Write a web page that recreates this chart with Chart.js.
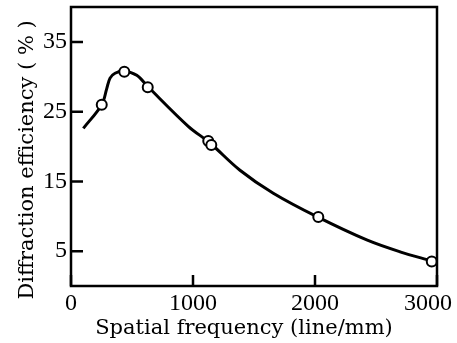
<!DOCTYPE html>
<html>
<head>
<meta charset="utf-8">
<script src="https://cdn.jsdelivr.net/npm/chart.js@4.4.0/dist/chart.umd.min.js"></script>
<style>
  html, body { margin: 0; padding: 0; background: #fff; }
  #wrap { width: 457px; height: 343px; }
</style>
</head>
<body>
<div id="wrap"><canvas id="myChart"></canvas></div>
<script>
// measured points (open circles)
var freq = [252, 437, 629, 1125, 1150, 2027, 2957];
var eff = [26.0, 30.7, 28.5, 20.8, 20.2, 9.9, 3.5];

// fitted curve
var curveFreq = [101, 252, 293, 320, 361, 437, 539, 629, 961, 1139, 1385, 1658, 2020, 2424, 2697, 2956];
var curveEff = [22.6, 26.0, 28.3, 29.8, 30.5, 30.8, 30.2, 28.6, 22.9, 20.5, 16.6, 13.3, 9.9, 6.6, 4.9, 3.6];

var xTicks = [0, 1000, 2000, 3000];
var yTicks = [5, 15, 25, 35];

var serif = "'Liberation Serif', 'DejaVu Serif', serif";
var titleFont = "'DejaVu Serif', serif";

// frame and inward tick marks
var framePlugin = {
  id: 'frame',
  afterDatasetsDraw: function (chart) {
    var ctx = chart.ctx;
    var a = chart.chartArea;
    var xs = chart.scales.x;
    var ys = chart.scales.y;
    ctx.save();
    ctx.strokeStyle = '#000';
    ctx.lineWidth = 2.5;
    ctx.strokeRect(a.left, a.top, a.right - a.left, a.bottom - a.top);
    ctx.beginPath();
    yTicks.forEach(function (v) {
      var py = ys.getPixelForValue(v);
      ctx.moveTo(a.left, py);
      ctx.lineTo(a.left + 12, py);
    });
    xTicks.forEach(function (v) {
      var px = xs.getPixelForValue(v);
      ctx.moveTo(px, a.bottom);
      ctx.lineTo(px, a.bottom - 11);
    });
    ctx.stroke();
    ctx.restore();
  }
};

var config = {
  type: 'scatter',
  data: {
    datasets: [
      {
        label: 'measured',
        data: freq.map(function (f, i) { return { x: f, y: eff[i] }; }),
        pointRadius: 5,
        pointBorderWidth: 2,
        pointBorderColor: '#000',
        pointBackgroundColor: '#fff',
        showLine: false,
        order: 0
      },
      {
        label: 'curve',
        data: curveFreq.map(function (f, i) { return { x: f, y: curveEff[i] }; }),
        showLine: true,
        borderColor: '#000',
        borderWidth: 3,
        pointRadius: 0,
        tension: 0.35,
        order: 1
      }
    ]
  },
  options: {
    responsive: true,
    maintainAspectRatio: false,
    animation: false,
    events: [],
    layout: { padding: { left: 0, right: 20, top: 7, bottom: 0 } },
    plugins: { legend: { display: false }, tooltip: { enabled: false } },
    scales: {
      x: {
        type: 'linear',
        min: 0,
        max: 3000,
        grid: { display: false, drawTicks: false },
        border: { display: false },
        afterBuildTicks: function (s) { s.ticks = xTicks.map(function (v) { return { value: v }; }); },
        afterFit: function (s) { s.height = 57; s.paddingLeft = 0; s.paddingRight = 0; },
        ticks: {
          color: '#000', font: { family: serif, size: 24 }, padding: 3, maxRotation: 0,
          // last label sits a bit left of its tick, as in the original
          callback: function (v) { return v === 3000 ? String(v) + '\u00a0\u00a0\u00a0' : String(v); }
        },
        title: { display: true, text: 'Spatial frequency (line/mm)\u00a0\u00a0\u00a0', color: '#000', font: { family: titleFont, size: 21 }, padding: { top: 0, bottom: 2 } }
      },
      y: {
        min: 0,
        max: 40,
        grid: { display: false, drawTicks: false },
        border: { display: false },
        afterBuildTicks: function (s) { s.ticks = yTicks.map(function (v) { return { value: v }; }); },
        afterFit: function (s) { s.width = 71; s.paddingTop = 0; s.paddingBottom = 0; },
        ticks: { color: '#000', font: { family: serif, size: 24 }, padding: 4 },
        title: { display: true, text: 'Diffraction efficiency ( % )\u00a0\u00a0\u00a0\u00a0', color: '#000', font: { family: titleFont, size: 21 }, padding: { top: 15, bottom: 0 } }
      }
    }
  },
  plugins: [framePlugin]
};

var myChart = new Chart(document.getElementById('myChart'), config);
</script>
</body>
</html>
